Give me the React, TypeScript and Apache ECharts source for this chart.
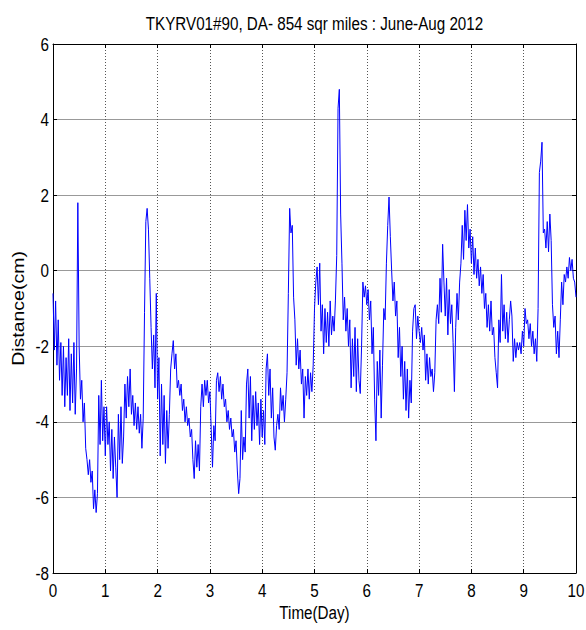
import React, { useEffect, useRef } from "react";
import * as echarts from "echarts";

const TITLE = "TKYRV01#90, DA- 854 sqr miles : June-Aug 2012";
const X_NAME = "Time(Day)";
const Y_NAME = "Distance(cm)";
const STEP_DAYS = 0.025;

// Distance (cm), one reading every 0.025 day
const day0 = [-0.6, -2.1, -0.8, -2.5, -1.3, -2.9, -1.9, -3.3, -2.0, -3.6, -2.3, -3.3, -1.8, -3.7, -2.2, -3.5, -1.9, -3.8, -2.6, 1.8,
  -2.0, -3.4, -2.9, -4.0, -3.5, -4.7, -5.0, -5.4, -5.0, -5.6, -5.3, -6.3, -5.8, -6.4, -5.9, -3.3, -4.6, -2.9, -4.5, -3.6];
const day1 = [-4.9, -3.6, -4.6, -4.0, -5.3, -4.2, -5.5, -4.4, -5.2, -6.0, -3.8, -5.0, -3.6, -5.1, -4.4, -3.0, -3.9, -2.8, -3.6, -2.6,
  -3.8, -3.3, -4.1, -3.5, -4.2, -3.6, -4.3, -3.8, -4.7, -3.9, -1.1, 1.3, 1.65, 1.1, -0.2, -1.5, -2.6, -1.7, -3.1, -0.6];
const day2 = [-3.4, -2.3, -4.9, -3.0, -4.6, -3.3, -5.1, -3.7, -4.7, -3.8, -2.6, -2.2, -1.85, -2.6, -2.2, -3.1, -2.9, -3.3, -3.0, -3.7,
  -3.4, -4.0, -3.6, -4.1, -3.9, -4.4, -4.2, -5.0, -5.5, -4.5, -5.2, -4.6, -5.3, -3.6, -3.0, -3.6, -2.9, -3.3, -2.9, -3.5];
const day3 = [-3.2, -4.2, -5.2, -4.1, -4.5, -2.9, -2.7, -3.2, -2.8, -3.4, -3.0, -3.6, -3.4, -4.0, -3.7, -4.2, -3.9, -4.4, -4.2, -4.8,
  -4.5, -5.3, -5.9, -5.5, -3.7, -5.0, -4.4, -4.8, -3.0, -2.6, -3.9, -2.8, -4.5, -3.3, -4.2, -3.2, -4.1, -3.5, -4.6, -3.4];
const day4 = [-4.4, -3.7, -4.6, -2.6, -2.2, -3.3, -2.6, -3.9, -3.1, -4.4, -4.75, -4.1, -3.8, -4.2, -3.1, -3.7, -3.3, -4.0, -3.4, -2.7,
  -0.6, 1.65, 1.0, 1.2, -0.7, -1.3, -2.5, -1.8, -2.6, -2.1, -3.0, -2.6, -3.9, -2.8, -3.3, -2.6, -3.4, -2.7, -3.2, -2.5];
const day5 = [-1.0, -0.3, 0.1, -0.9, 0.2, -1.6, -0.9, -2.2, -1.0, -1.9, -1.1, -2.0, -0.8, -1.7, -1.2, -1.6, -0.8, 0.4, 4.3, 4.8,
  1.5, 0.2, -1.3, -0.7, -1.6, -1.0, -2.0, -1.3, -3.1, -1.8, -2.8, -1.5, -3.2, -1.8, -2.9, -3.25, -2.0, -0.3, -0.7, -0.4];
const day6 = [-0.9, -0.5, -1.3, -0.8, -2.2, -1.5, -3.4, -4.5, -2.4, -3.3, -2.1, -3.9, -2.5, -1.0, -1.3, 0.2, 1.2, 1.95, 0.9, 0.0,
  -0.8, -0.3, -1.2, -0.8, -2.3, -1.5, -2.8, -2.0, -3.4, -2.4, -3.7, -2.6, -3.9, -2.9, -3.5, -1.6, -1.0, -0.9, -1.8, -1.2];
const day7 = [-1.6, -1.9, -1.5, -2.1, -1.7, -2.9, -2.2, -3.0, -2.3, -2.8, -2.6, -3.2, -2.7, -1.3, -0.9, -1.4, -0.2, -1.1, 0.7, -0.3,
  -1.2, -0.2, -1.7, -0.5, -1.4, -0.9, -1.9, -3.2, -1.5, -0.6, -1.3, -0.3, 0.2, 1.2, 0.3, 1.6, 0.8, 1.75, 0.6, 1.1];
const day8 = [0.2, 0.9, -0.1, 0.6, -0.2, 0.3, -0.4, 0.1, -0.6, -0.1, -1.0, -0.6, -1.5, -0.9, -1.6, -0.8, -1.7, -1.5, -2.3, -2.7,
  -3.1, -1.3, -1.9, -0.1, -1.6, -0.9, -1.8, -1.1, -1.9, -1.3, -0.8, -1.2, -2.4, -1.8, -2.3, -1.9, -2.1, -1.9, -2.2, -1.6];
const day9 = [-2.0, -1.0, -1.4, -1.3, -1.8, -1.4, -2.0, -1.6, -2.2, -1.8, -2.4, -1.0, 2.6, 2.9, 3.4, 1.0, 1.1, 0.6, 1.3, 0.5,
  1.5, 0.8, -0.9, -1.5, -1.2, -2.2, -1.6, -2.3, -1.3, -0.3, -0.9, -0.1, -0.3, 0.1, -0.2, 0.35, 0.0, 0.3, -0.2, -0.3, -0.7];

const distance = [...day0, ...day1, ...day2, ...day3, ...day4, ...day5, ...day6, ...day7, ...day8, ...day9];

const xTickLabels = [0, 1, 2, 3, 4, 5, 6, 7, 8, 9, 10];
const yTickLabels = [-8, -6, -4, -2, 0, 2, 4, 6];

const X_MIN = 0, X_MAX = 10, X_INTERVAL = 1;
const Y_MIN = -8, Y_MAX = 6, Y_INTERVAL = 2;

const FONT = "'Liberation Sans', Arial, sans-serif";
const SQUEEZE = 0.8;

export default function App() {
  const ref = useRef<HTMLDivElement>(null);
  useEffect(() => {
    if (!ref.current) return;
    const chart = echarts.init(ref.current, null, { renderer: "svg" });
    const points = distance.map((v, i) => [+(i * STEP_DAYS).toFixed(3), v]);
    const axisLine = { show: true, onZero: false, lineStyle: { color: "#000", width: 1 } };
    const tick = { show: true, inside: true, length: 4, lineStyle: { color: "#000" } };
    chart.setOption({
      animation: false,
      backgroundColor: "#fff",
      grid: { left: 53, right: 10, top: 44, bottom: 57, containLabel: false },
      xAxis: [
        {
          type: "value", min: X_MIN, max: X_MAX, interval: X_INTERVAL, position: "bottom",
          axisLine, axisTick: tick, axisLabel: { show: false },
          splitLine: { show: true, lineStyle: { type: [1, 2], color: "#555", width: 1 } },
        },
        {
          type: "value", min: X_MIN, max: X_MAX, interval: X_INTERVAL, position: "top",
          axisLine, axisTick: tick, axisLabel: { show: false }, splitLine: { show: false },
        },
      ],
      yAxis: [
        {
          type: "value", min: Y_MIN, max: Y_MAX, interval: Y_INTERVAL, position: "left",
          axisLine, axisTick: tick, axisLabel: { show: false },
          splitLine: { show: true, lineStyle: { type: "solid", color: "#999", width: 1 } },
        },
        {
          type: "value", min: Y_MIN, max: Y_MAX, interval: Y_INTERVAL, position: "right",
          axisLine, axisTick: tick, axisLabel: { show: false }, splitLine: { show: false },
        },
      ],
      series: [
        {
          type: "line",
          data: points,
          xAxisIndex: 0,
          yAxisIndex: 0,
          showSymbol: false,
          symbol: "none",
          lineStyle: { color: "#0000ff", width: 1 },
        },
      ],
    });

    const xPix = (v: number) => chart.convertToPixel({ xAxisIndex: 0 }, v) as number;
    const yPix = (v: number) => chart.convertToPixel({ yAxisIndex: 0 }, v) as number;
    const left = xPix(X_MIN), right = xPix(X_MAX);
    const bottom = yPix(Y_MIN), top = yPix(Y_MAX);
    const txt = (text: string, x: number, y: number, size: number, align: string, vAlign: string, sx: number = SQUEEZE) => ({
      type: "text",
      x, y,
      scaleX: sx,
      silent: true,
      style: {
        text, fill: "#000", fontFamily: FONT, fontSize: size,
        align, verticalAlign: vAlign, textAlign: align, textVerticalAlign: vAlign,
      },
    });
    const graphics: any[] = [];
    graphics.push(txt(TITLE, (left + right) / 2, top - 21, 19, "center", "middle", 0.8));
    xTickLabels.forEach((v) => graphics.push(txt(String(v), xPix(v), bottom + 17, 19, "center", "middle")));
    yTickLabels.forEach((v) => graphics.push(txt(String(v), left - 4, yPix(v), 19, "right", "middle")));
    graphics.push(txt(X_NAME, (left + right) / 2, bottom + 39, 19, "center", "middle"));
    graphics.push({
      type: "text",
      x: left - 34,
      y: (top + bottom) / 2,
      rotation: Math.PI / 2,
      scaleX: 1,
      scaleY: SQUEEZE,
      silent: true,
      style: {
        text: Y_NAME, fill: "#000", fontFamily: FONT, fontSize: 19.5,
        align: "center", verticalAlign: "middle", textAlign: "center", textVerticalAlign: "middle",
      },
    });
    chart.setOption({ graphic: graphics });
    return () => chart.dispose();
  }, []);
  return <div ref={ref} style={{ width: 586, height: 630, position: "absolute", left: 0, top: 0 }} />;
}
